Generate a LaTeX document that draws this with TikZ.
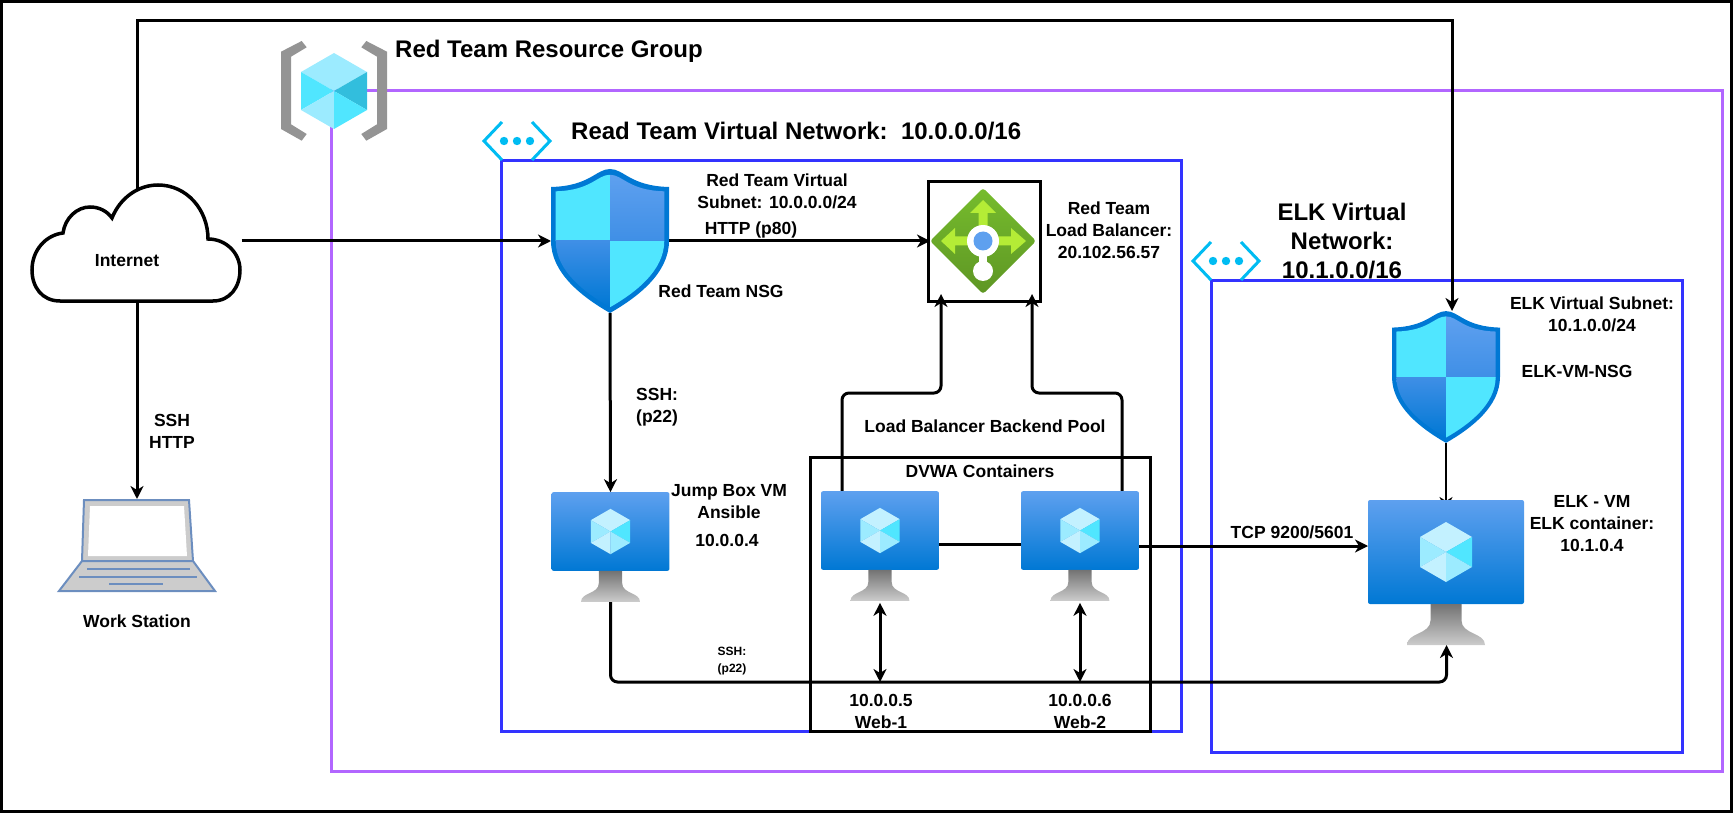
\documentclass[tikz,border=0pt]{standalone}
\usepackage{fontspec}
\setmainfont{Liberation Sans}
\usetikzlibrary{arrows.meta}
\definecolor{groupline}{HTML}{B266FF}
\definecolor{netline}{HTML}{3333FF}
\definecolor{netcyan}{HTML}{00BCF2}
\definecolor{azdark}{HTML}{0078D4}
\definecolor{azmid}{HTML}{3F8FE6}
\definecolor{azlight}{HTML}{5EA0EF}
\definecolor{cyan1}{HTML}{50E6FF}
\definecolor{cyan2}{HTML}{9CEBFF}
\definecolor{cyan3}{HTML}{C3F1FF}
\definecolor{cyan4}{HTML}{32BEDD}
\definecolor{bracketgray}{HTML}{949494}
\definecolor{laptopline}{HTML}{6C8EBF}
\definecolor{laptopgray}{HTML}{CCCCCC}
\definecolor{lbgreen1}{HTML}{76BC2D}
\definecolor{lbgreen2}{HTML}{5E9624}
\definecolor{lbarrow}{HTML}{B4EC36}
\newcommand{\shieldpath}{(0,-72) .. controls (-14,-72) and (-20,-55) .. (-59,-54) -- (-59,0) .. controls (-59,32) and (-28,56) .. (0,72) .. controls (28,56) and (59,32) .. (59,0) -- (59,-54) .. controls (20,-55) and (14,-72) .. (0,-72) -- cycle}
\tikzset{
	iconbox/.style={inner sep=0, outer sep=0},
	labeltext/.style={font=\bfseries\fontsize{17.5}{22}\selectfont, align=center, inner sep=0},
	titletext/.style={font=\bfseries\fontsize{24}{29}\selectfont, align=center, inner sep=0},
	smalltext/.style={font=\bfseries\fontsize{12}{17}\selectfont, align=center, inner sep=0},
	netbox/.style={draw=netline, line width=3pt},
	blackbox/.style={draw=black, line width=3pt},
	conn/.style={line width=3pt},
	bentconn/.style={line width=3pt, rounded corners=7pt},
	shieldicon/.pic={
		\fill[azdark] \shieldpath;
		\begin{scope}[scale=.92]
			\clip \shieldpath;
			\fill[cyan1] (-70,-80) rectangle (0,0);
			\shade[top color=azlight, bottom color=azmid] (0,-72) rectangle (70,0);
			\shade[top color=azmid, bottom color=azdark] (-70,0) rectangle (0,72);
			\fill[cyan1] (0,0) rectangle (70,80);
		\end{scope}
	},
	vmicon/.pic={
		\shade[top color=azlight, bottom color=azdark, rounded corners=2pt] (-78,-72.5) rectangle (78,31.5);
		\shade[top color=black!55, bottom color=black!20] (-15.5,31.5) -- (-15.5,48) .. controls (-15.5,62) and (-39,60) .. (-39,72.5) -- (39,72.5) .. controls (39,60) and (15.5,62) .. (15.5,48) -- (15.5,31.5) -- cycle;
		\fill[cyan3] (0,-50.5) -- (26,-35.5) -- (0,-20.5) -- (-26,-35.5) -- cycle;
		\fill[cyan2] (-26,-35.5) -- (0,-20.5) -- (-26,-5.5) -- cycle;
		\fill[cyan1] (26,-35.5) -- (0,-20.5) -- (26,-5.5) -- cycle;
		\fill[cyan3] (-26,-5.5) -- (0,-20.5) -- (0,9.5) -- cycle;
		\fill[cyan2] (26,-5.5) -- (0,-20.5) -- (0,9.5) -- cycle;
	},
	neticon/.pic={
		\draw[netcyan, line width=3pt] (-15,-19) -- (-33,0) -- (-15,19);
		\draw[netcyan, line width=3pt] (15,-19) -- (33,0) -- (15,19);
		\fill[netcyan] (-13,0) circle (4.2) (0,0) circle (4.2) (13,0) circle (4.2);
	},
	groupicon/.pic={
		\fill[bracketgray] (-53,-39.3) -- (-32.3,-50) -- (-27.3,-43.7) -- (-43,-34.3) -- (-43,33.3) -- (-27.3,43) -- (-32.3,49.7) -- (-53,38) -- cycle;
		\fill[bracketgray] (53,-39.3) -- (32.3,-50) -- (27.3,-43.7) -- (43,-34.3) -- (43,33.3) -- (27.3,43) -- (32.3,49.7) -- (53,38) -- cycle;
		\fill[cyan2] (0,-38) -- (33,-19) -- (0,0) -- (-33,-19) -- cycle;
		\fill[cyan1] (-33,-19) -- (0,0) -- (-33,19) -- cycle;
		\fill[cyan4] (33,-19) -- (0,0) -- (33,19) -- cycle;
		\fill[cyan2] (-33,19) -- (0,0) -- (0,38) -- cycle;
		\fill[cyan1] (33,19) -- (0,0) -- (0,38) -- cycle;
	},
	balancericon/.pic={
		\shade[top color=lbgreen1, bottom color=lbgreen2, rounded corners=3pt] (0,-53) -- (53,0) -- (0,53) -- (-53,0) -- cycle;
		\fill[lbarrow] (0,-41) -- (13,-28) -- (4.5,-28) -- (4.5,-4.5) -- (28,-4.5) -- (28,-13) -- (43,0) -- (28,13) -- (28,4.5) -- (-28,4.5) -- (-28,13) -- (-42,0) -- (-28,-13) -- (-28,-4.5) -- (-4.5,-4.5) -- (-4.5,-28) -- (-13,-28) -- cycle;
		\fill[white] (-4,0) rectangle (4,30);
		\fill[white] (0,0) circle (16) (0,30) circle (10);
		\fill[azlight] (0,0) circle (9.5);
	},
	laptopicon/.pic={
		\fill[laptopgray, draw=laptopline, line width=2pt] (-53,-45) -- (52,-45) -- (56,16) -- (-55,16) -- cycle;
		\fill[white] (-47,-39) -- (47,-39) -- (50,11) -- (-49,11) -- cycle;
		\fill[laptopgray, draw=laptopline, line width=2pt] (-55,16) -- (56,16) -- (78,46) -- (-78,46) -- cycle;
		\draw[laptopline, line width=2pt] (-50,24) -- (53,24) (-58,32) -- (60,32) (-28,39) -- (26,39);
	},
	cloudicon/.pic={
		\draw[fill=white, line width=3.5pt] (-77,60) .. controls (-95,60) and (-105,46) .. (-105,29) .. controls (-105,9) and (-91,-6) .. (-74,-8) .. controls (-72,-23) and (-60,-34) .. (-47,-34) .. controls (-38,-34) and (-30,-30) .. (-25,-23) .. controls (-17,-43) and (1,-56) .. (21,-56) .. controls (50,-56) and (71,-31) .. (71,-2) .. controls (89,-2) and (103,12) .. (103,29) .. controls (103,46) and (93,60) .. (76,60) -- cycle;
	},
}
\begin{document}
\begin{tikzpicture}[x=1pt, y=-1pt, >={Stealth[length=13pt, width=13pt, inset=4pt]}]
	\useasboundingbox (0,0) rectangle (1733,813);
	\draw[blackbox] (1.5,1.5) rectangle (1731.5,811.5);
	\draw[draw=groupline, line width=3pt] (331,91) rectangle (1722,771);
	\draw[netbox] (501,161) rectangle (1181,731);
	\draw[netbox] (1211,281) rectangle (1682,752);

	\node[iconbox, minimum width=209pt, minimum height=120pt] (cloud) at (137,241) {};
	\node[iconbox, minimum width=157pt, minimum height=92pt] (laptop) at (137,545) {};
	\node[iconbox, minimum width=118pt, minimum height=144pt] (rednsg) at (610,241) {};
	\node[iconbox, minimum width=108pt, minimum height=132pt] (elknsg) at (1446,377) {};
	\node[iconbox, minimum width=106pt, minimum height=106pt] (lbicon) at (983,241) {};
	\node[draw, line width=3pt, inner sep=0, outer sep=0, minimum width=112pt, minimum height=119pt] (lbbox) at (984,241.5) {};
	\node[iconbox, minimum width=118pt, minimum height=109.6pt] (jumpbox) at (610.5,547) {};
	\node[iconbox, minimum width=118pt, minimum height=109.6pt] (web1) at (880,546) {};
	\node[iconbox, minimum width=118pt, minimum height=109.6pt] (web2) at (1080,546) {};
	\node[iconbox, minimum width=156pt, minimum height=145pt] (elkvm) at (1446,572.5) {};
	\node[draw, line width=3pt, inner sep=0, outer sep=0, minimum width=340pt, minimum height=274pt] (dvwabox) at (980,594) {};

	\coordinate (topleft) at (137,21);
	\coordinate (topright) at (1452,21);
	\coordinate (sshleft) at (610.5,682);
	\coordinate (sshright) at (1446.5,682);
	\coordinate (poolleft) at (842,393);
	\coordinate (poolright) at (1122,393);

	\draw[conn, ->] ([yshift=-9pt]cloud.north) -- (topleft) -- (topright) -- ([xshift=6pt]elknsg.north);
	\draw[conn, ->] (cloud.east) -- (rednsg.west);
	\draw[conn, ->] (rednsg.east) -- (lbicon.west);
	\draw[conn, ->] (cloud.south) -- (laptop.north);
	\draw[conn, ->] (rednsg.south) -- (jumpbox.north);
	\draw[bentconn, ->] (web1.north -| poolleft) -- (poolleft) -- (poolleft -| 941,0) -- ([xshift=-42pt]lbicon.south);
	\draw[bentconn, ->] (web2.north -| poolright) -- (poolright) -- (poolright -| 1032,0) -- ([xshift=49pt]lbicon.south);
	\draw[conn] ([yshift=2pt]web1.east) -- ([yshift=2pt]web2.west);
	\draw[conn, ->] (web2.east) -- (web2.east -| elkvm.west);
	\draw[bentconn, ->] (jumpbox.south) -- (sshleft) -- (sshright) -- ([xshift=.5pt]elkvm.south);
	\draw[conn, <->] ([yshift=-2pt]web1.south) -- (web1.south |- sshleft);
	\draw[conn, <->] ([yshift=-2pt]web2.south) -- (web2.south |- sshleft);
	\draw[line width=1.7pt, ->] (elknsg.south) -- ([yshift=-10pt]elkvm.north);

	\pic at (cloud) {cloudicon};
	\pic at (laptop) {laptopicon};
	\pic at (rednsg) {shieldicon};
	\pic[scale=.915] at (elknsg) {shieldicon};
	\pic at (lbicon) {balancericon};
	\pic[scale=.756] at (jumpbox) {vmicon};
	\pic[scale=.756] at (web1) {vmicon};
	\pic[scale=.756] at (web2) {vmicon};
	\pic at (elkvm) {vmicon};
	\pic at (334,91) {groupicon};
	\pic at (517,141) {neticon};
	\pic at (1226,261) {neticon};

	\node[titletext, anchor=west] (grouptitle) at (395,51) {Red Team Resource Group};
	\node[titletext, anchor=west] (redtitle) at (571,131) {Read Team Virtual Network:~~10.0.0.0/16};
	\node[titletext] (elktitle) at (1342,241) {ELK Virtual\\Network:\\10.1.0.0/16};
	\node[labeltext] (internet) at (127,261) {Internet};
	\node[labeltext] (sshhttp) at (172,431) {SSH\\HTTP};
	\node[labeltext] (workstation) at (137,621) {Work Station};
	\node[labeltext] (subnetlabel) at (777,191) {Red Team Virtual\\Subnet: 10.0.0.0/24};
	\node[labeltext] (httplabel) at (751,230) {HTTP (p80)};
	\node[labeltext] (lblabel) at (1109,230) {Red Team\\Load Balancer:\\20.102.56.57};
	\node[labeltext] (nsglabel) at (721,291) {Red Team NSG};
	\node[labeltext, align=left, anchor=west] (sshlabel) at (636,407) {SSH:\\(p22)};
	\node[labeltext] (poollabel) at (985,426) {Load Balancer Backend Pool};
	\node[labeltext] (dvwalabel) at (980,471) {DVWA Containers};
	\node[labeltext] (jumplabel) at (729,501.5) {Jump Box VM\\Ansible};
	\node[labeltext] (jumpip) at (727,540) {10.0.0.4};
	\node[labeltext] (tcplabel) at (1292,532) {TCP 9200/5601};
	\node[smalltext] (sshsmall) at (732,661.5) {SSH:\\(p22)};
	\node[labeltext] (web1label) at (881,711) {10.0.0.5\\Web-1};
	\node[labeltext] (web2label) at (1080,711) {10.0.0.6\\Web-2};
	\node[labeltext] (elksubnet) at (1592,314) {ELK Virtual Subnet:\\10.1.0.0/24};
	\node[labeltext] (elknsglabel) at (1577,371) {ELK-VM-NSG};
	\node[labeltext] (elkvmlabel) at (1592,524) {ELK - VM\\ELK container:\\10.1.0.4};
\end{tikzpicture}
\end{document}
